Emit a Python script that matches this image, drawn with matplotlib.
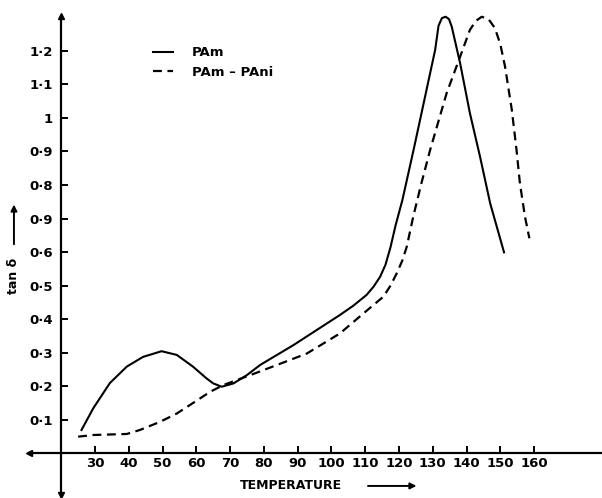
import numpy as np
import matplotlib
matplotlib.use("Agg")
import matplotlib.pyplot as plt

# tan delta vs temperature
temp_pam = [26, 29.5, 34.4, 39.4, 44.2, 49.7, 54.2, 59, 63, 65, 67.5, 71, 75, 78.9,
            88.7, 102.5, 106.5, 110.4, 112.5, 114.4, 116, 117.5, 119, 121, 124.3, 127,
            129.2, 130.7, 131.7, 132.7, 133.8, 134.8, 135.6, 138.1, 141, 144, 147, 151.1]
tan_pam = [0.069, 0.134, 0.209, 0.258, 0.287, 0.304, 0.293, 0.258, 0.223, 0.208, 0.198,
           0.208, 0.233, 0.263, 0.322, 0.412, 0.44, 0.472, 0.497, 0.526, 0.562, 0.615,
           0.680, 0.755, 0.904, 1.03, 1.133, 1.203, 1.275, 1.298, 1.302, 1.295, 1.273,
           1.163, 1.014, 0.884, 0.745, 0.599]

temp_pani = [25, 29.5, 39.4, 43.3, 49.2, 54.2, 59.1, 64.1, 68, 77.9, 92.7, 102.5, 109.5,
             115.4, 117.5, 119.3, 121, 122.3, 124.2, 126.5, 129.2, 134.1, 138.1, 141,
             142.8, 144.5, 146.5, 148.4, 150, 151.4, 153.4, 154.8, 155.8, 157.3, 158.6]
tan_pani = [0.049, 0.054, 0.057, 0.069, 0.093, 0.118, 0.150, 0.183, 0.203, 0.240, 0.297,
            0.357, 0.417, 0.467, 0.50, 0.536, 0.575, 0.616, 0.705, 0.80, 0.904, 1.074,
            1.183, 1.263, 1.29, 1.302, 1.295, 1.268, 1.22, 1.153, 1.024, 0.904, 0.805,
            0.705, 0.641]

xticks = [30, 40, 50, 60, 70, 80, 90, 100, 110, 120, 130, 140, 150, 160]
yticks = [0.1, 0.2, 0.3, 0.4, 0.5, 0.6, 0.7, 0.8, 0.9, 1.0, 1.1, 1.2]
# the original figure prints 0.9 at the 0.7 position
ylabels = ['0·1', '0·2', '0·3', '0·4', '0·5', '0·6', '0·9', '0·8', '0·9', '1', '1·1', '1·2']

fig = plt.figure(figsize=(6.02, 4.98), dpi=100)
ax = fig.add_axes([0, 0, 1, 1])
ax.set_xlim(1.87, 180.1)
ax.set_ylim(-0.134, 1.352)

ax.plot(temp_pam, tan_pam, color='black', lw=1.5, label='PAm')
ax.plot(temp_pani, tan_pani, color='black', lw=1.6, linestyle=(0, (4, 2.5)),
        label='PAm – PAni')

# axes crossing at (20, 0) with arrow heads
for side in ['top', 'right']:
    ax.spines[side].set_visible(False)
ax.spines['left'].set_position(('data', 20))
ax.spines['bottom'].set_position(('data', 0))
ax.spines['left'].set_bounds(-0.12, 1.30)
ax.spines['bottom'].set_bounds(10.5, 180.1)
ax.spines['left'].set_linewidth(1.6)
ax.spines['bottom'].set_linewidth(1.6)
ax.plot([10.5], [0], marker='<', color='black', ms=5, clip_on=False)
ax.plot([20], [1.305], marker='^', color='black', ms=5, clip_on=False)
ax.plot([20], [-0.125], marker='v', color='black', ms=5, clip_on=False)

ax.set_xticks(xticks)
ax.set_xticklabels([str(t) for t in xticks])
ax.set_yticks(yticks)
ax.set_yticklabels(ylabels)
ax.tick_params(axis='both', direction='in', length=5, width=1.4, labelsize=9.5)
ax.tick_params(axis='x', pad=3)
ax.tick_params(axis='y', pad=6)
for lab in ax.get_xticklabels() + ax.get_yticklabels():
    lab.set_fontweight('bold')

# axis titles with their arrows
ax.text(88, -0.098, 'TEMPERATURE', fontsize=9, fontweight='bold',
        ha='center', va='center')
ax.annotate('', xy=(126, -0.098), xytext=(110, -0.098),
            arrowprops=dict(arrowstyle='-|>', color='black', lw=1.4, mutation_scale=9))
ax.text(6.0, 0.53, 'tan δ', fontsize=9, fontweight='bold', rotation=90,
        ha='center', va='center')
ax.annotate('', xy=(6.0, 0.75), xytext=(6.0, 0.615),
            arrowprops=dict(arrowstyle='-|>', color='black', lw=1.4, mutation_scale=9))

leg = ax.legend(loc='upper left', bbox_to_anchor=(0.254, 0.907), frameon=False,
                fontsize=9.5, handlelength=1.55, handletextpad=1.4, labelspacing=0.5,
                borderpad=0, borderaxespad=0)
for t in leg.get_texts():
    t.set_fontweight('bold')

fig.savefig('out.png', dpi=100)
